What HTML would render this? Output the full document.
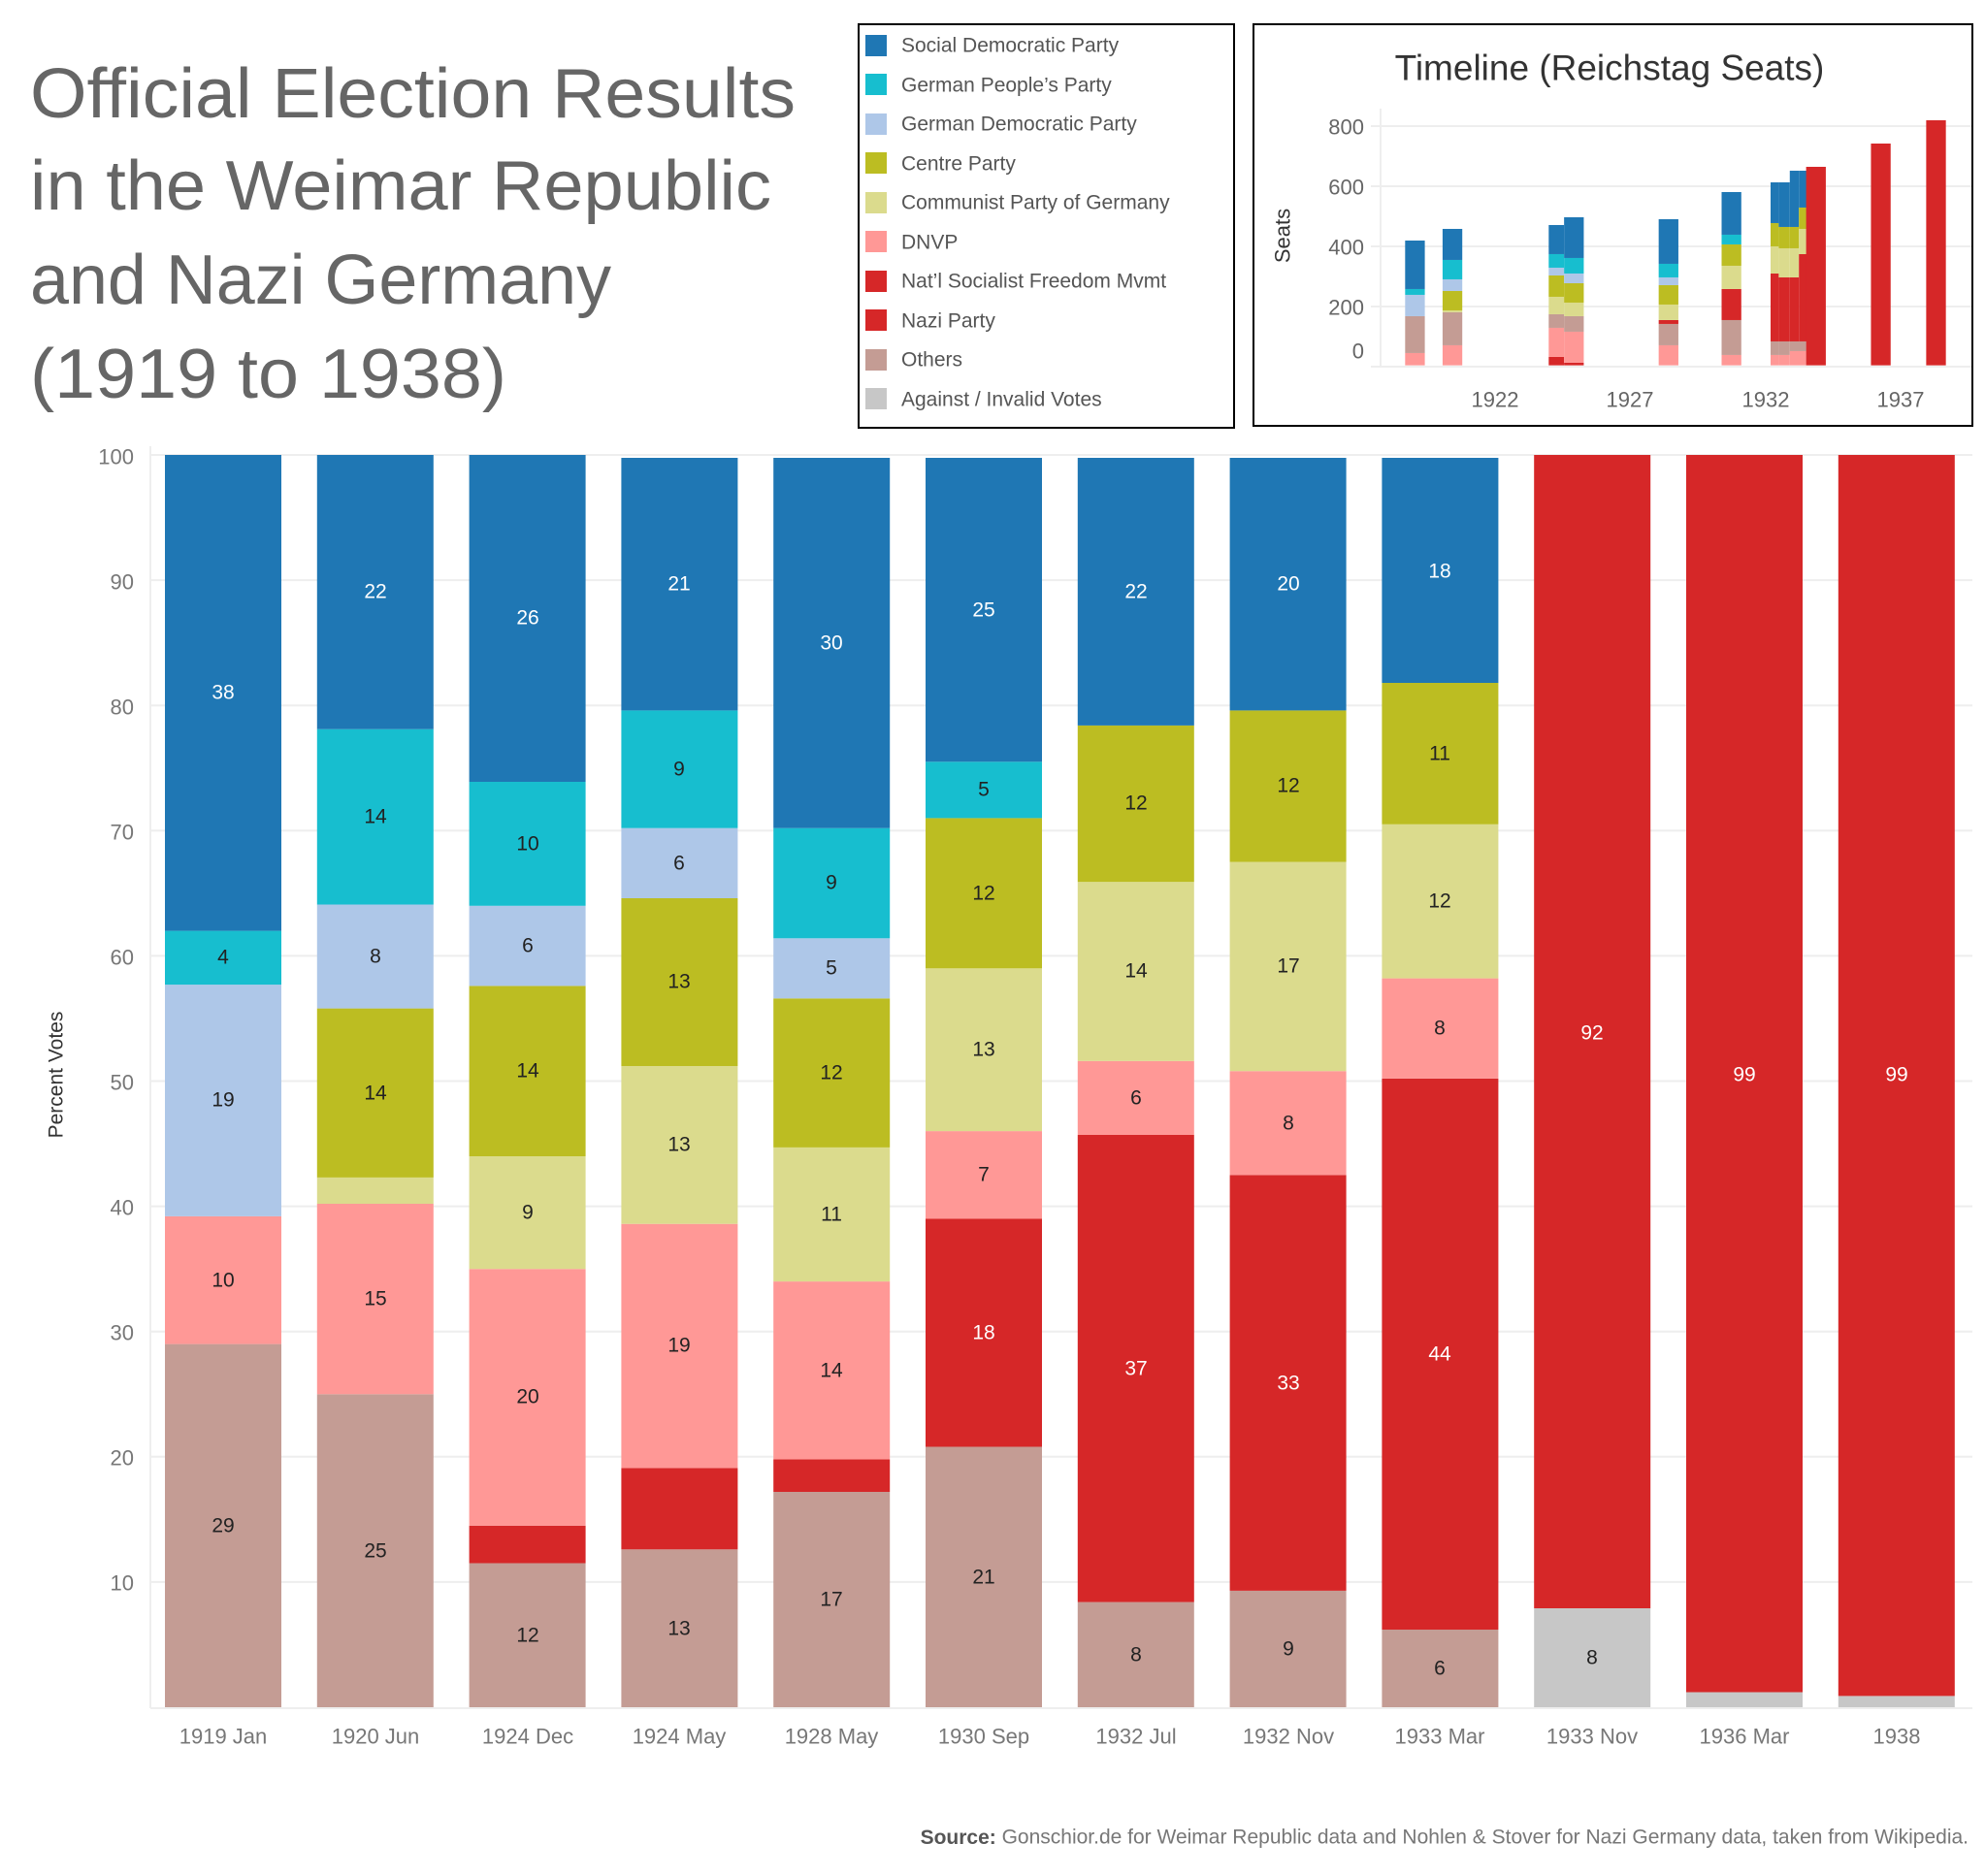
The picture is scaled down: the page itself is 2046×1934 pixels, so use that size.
<!DOCTYPE html>
<html><head><meta charset="utf-8"><style>
html,body{margin:0;padding:0;background:#fff}
svg{display:block}
text{font-family:"Liberation Sans",sans-serif}
</style></head><body>
<svg width="2046" height="1934" viewBox="0 0 2046 1934" xmlns="http://www.w3.org/2000/svg">
<rect width="2046" height="1934" fill="#fff"/>
<!-- Title -->
<g fill="#666" font-size="72">
<text x="31" y="121" textLength="789" lengthAdjust="spacingAndGlyphs">Official Election Results</text>
<text x="31" y="216" textLength="764" lengthAdjust="spacingAndGlyphs">in the Weimar Republic</text>
<text x="31" y="313" textLength="599" lengthAdjust="spacingAndGlyphs">and Nazi Germany</text>
<text x="31" y="410" textLength="491" lengthAdjust="spacingAndGlyphs">(1919 to 1938)</text>
</g>
<!-- Legend -->
<rect x="885" y="25" width="387" height="416" fill="none" stroke="#000" stroke-width="2"/>
<g font-size="21" fill="#555" dominant-baseline="central">
<rect x="892" y="36" width="22" height="22" fill="#1f77b4"/><text x="929" y="47">Social Democratic Party</text>
<rect x="892" y="76" width="22" height="22" fill="#17becf"/><text x="929" y="88">German People’s Party</text>
<rect x="892" y="117" width="22" height="22" fill="#aec7e8"/><text x="929" y="128">German Democratic Party</text>
<rect x="892" y="157" width="22" height="22" fill="#bcbd22"/><text x="929" y="169">Centre Party</text>
<rect x="892" y="198" width="22" height="22" fill="#dbdb8d"/><text x="929" y="209">Communist Party of Germany</text>
<rect x="892" y="238" width="22" height="22" fill="#ff9896"/><text x="929" y="250">DNVP</text>
<rect x="892" y="279" width="22" height="22" fill="#d62728"/><text x="929" y="290">Nat’l Socialist Freedom Mvmt</text>
<rect x="892" y="319" width="22" height="22" fill="#d62728"/><text x="929" y="331">Nazi Party</text>
<rect x="892" y="360" width="22" height="22" fill="#c49c94"/><text x="929" y="371">Others</text>
<rect x="892" y="400" width="22" height="22" fill="#c7c7c7"/><text x="929" y="412">Against / Invalid Votes</text>
</g>
<!-- Timeline inset -->
<rect x="1292" y="25" width="741" height="414" fill="none" stroke="#000" stroke-width="2"/>
<text x="1659" y="70" font-size="37" fill="#333" text-anchor="middle" dominant-baseline="central">Timeline (Reichstag Seats)</text>
<g stroke="#eee" stroke-width="2">
<line x1="1413" y1="130" x2="2032" y2="130"/><line x1="1413" y1="192" x2="2032" y2="192"/>
<line x1="1413" y1="254" x2="2032" y2="254"/><line x1="1413" y1="316" x2="2032" y2="316"/>
<line x1="1413" y1="378" x2="2032" y2="378"/><line x1="1423" y1="112" x2="1423" y2="378"/>
</g>
<g font-size="22" fill="#666" text-anchor="end" dominant-baseline="central">
<text x="1406" y="131">800</text><text x="1406" y="193">600</text><text x="1406" y="255">400</text><text x="1406" y="317">200</text><text x="1406" y="362">0</text>
</g>
<text transform="translate(1322,243) rotate(-90)" font-size="22" fill="#333" text-anchor="middle" dominant-baseline="central">Seats</text>
<g font-size="22" fill="#666" text-anchor="middle" dominant-baseline="central">
<text x="1541" y="412">1922</text><text x="1680" y="412">1927</text><text x="1820" y="412">1932</text><text x="1959" y="412">1937</text>
</g>
<g transform="translate(1280,0) scale(0.495,0.3333)">
<!-- 1919 -->
<rect x="340" y="1092" width="41" height="38" fill="#ff9896"/><rect x="340" y="978" width="41" height="114" fill="#c49c94"/>
<rect x="340" y="912" width="41" height="66" fill="#aec7e8"/><rect x="340" y="894" width="41" height="18" fill="#17becf"/>
<rect x="340" y="744" width="41" height="150" fill="#1f77b4"/>
<!-- 1920 -->
<rect x="418" y="1068" width="41" height="62" fill="#ff9896"/><rect x="418" y="966" width="41" height="102" fill="#c49c94"/>
<rect x="418" y="960" width="41" height="6" fill="#dbdb8d"/><rect x="418" y="900" width="41" height="60" fill="#bcbd22"/>
<rect x="418" y="864" width="41" height="36" fill="#aec7e8"/><rect x="418" y="804" width="41" height="60" fill="#17becf"/>
<rect x="418" y="708" width="41" height="96" fill="#1f77b4"/>
<!-- 1924 May -->
<rect x="639" y="1104" width="32" height="26" fill="#d62728"/><rect x="639" y="1014" width="32" height="90" fill="#ff9896"/>
<rect x="639" y="972" width="32" height="42" fill="#c49c94"/><rect x="639" y="918" width="32" height="54" fill="#dbdb8d"/>
<rect x="639" y="852" width="32" height="66" fill="#bcbd22"/><rect x="639" y="828" width="32" height="24" fill="#aec7e8"/>
<rect x="639" y="786" width="32" height="42" fill="#17becf"/><rect x="639" y="696" width="32" height="90" fill="#1f77b4"/>
<!-- 1924 Dec -->
<rect x="671" y="1122" width="41" height="8" fill="#d62728"/><rect x="671" y="1026" width="41" height="96" fill="#ff9896"/>
<rect x="671" y="978" width="41" height="48" fill="#c49c94"/><rect x="671" y="936" width="41" height="42" fill="#dbdb8d"/>
<rect x="671" y="876" width="41" height="60" fill="#bcbd22"/><rect x="671" y="846" width="41" height="30" fill="#aec7e8"/>
<rect x="671" y="798" width="41" height="48" fill="#17becf"/><rect x="671" y="672" width="41" height="126" fill="#1f77b4"/>
<!-- 1928 -->
<rect x="868" y="1068" width="41" height="62" fill="#ff9896"/><rect x="868" y="1002" width="41" height="66" fill="#c49c94"/>
<rect x="868" y="990" width="41" height="12" fill="#d62728"/><rect x="868" y="942" width="41" height="48" fill="#dbdb8d"/>
<rect x="868" y="882" width="41" height="60" fill="#bcbd22"/><rect x="868" y="858" width="41" height="24" fill="#aec7e8"/>
<rect x="868" y="816" width="41" height="42" fill="#17becf"/><rect x="868" y="678" width="41" height="138" fill="#1f77b4"/>
<!-- 1930 -->
<rect x="999" y="1098" width="41" height="32" fill="#ff9896"/><rect x="999" y="990" width="41" height="108" fill="#c49c94"/>
<rect x="999" y="894" width="41" height="96" fill="#d62728"/><rect x="999" y="822" width="41" height="72" fill="#dbdb8d"/>
<rect x="999" y="756" width="41" height="66" fill="#bcbd22"/><rect x="999" y="726" width="41" height="30" fill="#17becf"/>
<rect x="999" y="594" width="41" height="132" fill="#1f77b4"/>
<!-- 1932 Jul -->
<rect x="1101" y="1098" width="17" height="32" fill="#ff9896"/><rect x="1101" y="1056" width="17" height="42" fill="#c49c94"/>
<rect x="1101" y="846" width="17" height="210" fill="#d62728"/><rect x="1101" y="762" width="17" height="84" fill="#dbdb8d"/>
<rect x="1101" y="690" width="17" height="72" fill="#bcbd22"/><rect x="1101" y="564" width="17" height="126" fill="#1f77b4"/>
<!-- 1932 Nov -->
<rect x="1118" y="1098" width="23" height="32" fill="#ff9896"/><rect x="1118" y="1056" width="23" height="42" fill="#c49c94"/>
<rect x="1118" y="858" width="23" height="198" fill="#d62728"/><rect x="1118" y="768" width="23" height="90" fill="#dbdb8d"/>
<rect x="1118" y="702" width="23" height="66" fill="#bcbd22"/><rect x="1118" y="564" width="23" height="138" fill="#1f77b4"/>
<!-- 1933 Mar -->
<rect x="1141" y="1086" width="34" height="44" fill="#ff9896"/><rect x="1141" y="1056" width="34" height="30" fill="#c49c94"/>
<rect x="1141" y="858" width="19" height="198" fill="#d62728"/><rect x="1141" y="768" width="19" height="90" fill="#dbdb8d"/>
<rect x="1141" y="702" width="19" height="66" fill="#bcbd22"/><rect x="1141" y="528" width="19" height="174" fill="#1f77b4"/>
<rect x="1160" y="786" width="18" height="270" fill="#d62728"/><rect x="1160" y="708" width="18" height="78" fill="#dbdb8d"/>
<rect x="1160" y="642" width="18" height="66" fill="#bcbd22"/><rect x="1160" y="528" width="18" height="114" fill="#1f77b4"/>
<!-- later -->
<rect x="1175" y="516" width="41" height="614" fill="#d62728"/>
<rect x="1310" y="444" width="41" height="686" fill="#d62728"/>
<rect x="1425" y="372" width="41" height="758" fill="#d62728"/>
</g>

<!-- Main chart grid -->
<g stroke="#eee" stroke-width="2">
<line x1="155" y1="469" x2="2033" y2="469"/><line x1="155" y1="598.1" x2="2033" y2="598.1"/>
<line x1="155" y1="727.2" x2="2033" y2="727.2"/><line x1="155" y1="856.3" x2="2033" y2="856.3"/>
<line x1="155" y1="985.4" x2="2033" y2="985.4"/><line x1="155" y1="1114.5" x2="2033" y2="1114.5"/>
<line x1="155" y1="1243.6" x2="2033" y2="1243.6"/><line x1="155" y1="1372.7" x2="2033" y2="1372.7"/>
<line x1="155" y1="1501.8" x2="2033" y2="1501.8"/><line x1="155" y1="1630.9" x2="2033" y2="1630.9"/>
<line x1="155" y1="1761" x2="2033" y2="1761"/><line x1="155" y1="460" x2="155" y2="1761"/>
</g>
<g font-size="22" fill="#777" text-anchor="end" dominant-baseline="central">
<text x="138" y="471">100</text><text x="138" y="600">90</text><text x="138" y="729">80</text><text x="138" y="858">70</text>
<text x="138" y="987">60</text><text x="138" y="1116">50</text><text x="138" y="1245">40</text><text x="138" y="1374">30</text>
<text x="138" y="1503">20</text><text x="138" y="1632">10</text>
</g>
<text transform="translate(58,1108) rotate(-90)" font-size="21" fill="#333" text-anchor="middle" dominant-baseline="central">Percent Votes</text>

<g>
<!-- 1919 -->
<rect x="170" y="1385.6" width="120" height="374.4" fill="#c49c94"/><rect x="170" y="1253.9" width="120" height="131.7" fill="#ff9896"/>
<rect x="170" y="1015.1" width="120" height="238.8" fill="#aec7e8"/><rect x="170" y="959.6" width="120" height="55.5" fill="#17becf"/>
<rect x="170" y="469" width="120" height="490.6" fill="#1f77b4"/>
<!-- 1920 -->
<rect x="326.8" y="1437.3" width="120" height="322.7" fill="#c49c94"/><rect x="326.8" y="1241" width="120" height="196.3" fill="#ff9896"/>
<rect x="326.8" y="1213.9" width="120" height="27.1" fill="#dbdb8d"/><rect x="326.8" y="1039.6" width="120" height="174.3" fill="#bcbd22"/>
<rect x="326.8" y="932.5" width="120" height="107.1" fill="#aec7e8"/><rect x="326.8" y="751.7" width="120" height="180.8" fill="#17becf"/>
<rect x="326.8" y="469" width="120" height="282.7" fill="#1f77b4"/>
<!-- 1924 Dec -->
<rect x="483.6" y="1611.5" width="120" height="148.5" fill="#c49c94"/><rect x="483.6" y="1572.8" width="120" height="38.7" fill="#d62728"/>
<rect x="483.6" y="1308.2" width="120" height="264.6" fill="#ff9896"/><rect x="483.6" y="1192" width="120" height="116.2" fill="#dbdb8d"/>
<rect x="483.6" y="1016.4" width="120" height="175.6" fill="#bcbd22"/><rect x="483.6" y="933.8" width="120" height="82.6" fill="#aec7e8"/>
<rect x="483.6" y="806" width="120" height="127.8" fill="#17becf"/><rect x="483.6" y="469" width="120" height="337" fill="#1f77b4"/>
<!-- 1924 May -->
<rect x="640.4" y="1597.3" width="120" height="162.7" fill="#c49c94"/><rect x="640.4" y="1513.4" width="120" height="83.9" fill="#d62728"/>
<rect x="640.4" y="1261.7" width="120" height="251.7" fill="#ff9896"/><rect x="640.4" y="1099" width="120" height="162.7" fill="#dbdb8d"/>
<rect x="640.4" y="926" width="120" height="173" fill="#bcbd22"/><rect x="640.4" y="853.7" width="120" height="72.3" fill="#aec7e8"/>
<rect x="640.4" y="732.4" width="120" height="121.3" fill="#17becf"/><rect x="640.4" y="472" width="120" height="260.4" fill="#1f77b4"/>
<!-- 1928 -->
<rect x="797.2" y="1538" width="120" height="222" fill="#c49c94"/><rect x="797.2" y="1504.4" width="120" height="33.6" fill="#d62728"/>
<rect x="797.2" y="1321.1" width="120" height="183.3" fill="#ff9896"/><rect x="797.2" y="1182.9" width="120" height="138.2" fill="#dbdb8d"/>
<rect x="797.2" y="1029.3" width="120" height="153.6" fill="#bcbd22"/><rect x="797.2" y="967.3" width="120" height="62" fill="#aec7e8"/>
<rect x="797.2" y="853.7" width="120" height="113.6" fill="#17becf"/><rect x="797.2" y="472" width="120" height="381.7" fill="#1f77b4"/>
<!-- 1930 -->
<rect x="954" y="1491.5" width="120" height="268.5" fill="#c49c94"/><rect x="954" y="1256.5" width="120" height="235" fill="#d62728"/>
<rect x="954" y="1166.1" width="120" height="90.4" fill="#ff9896"/><rect x="954" y="998.3" width="120" height="167.8" fill="#dbdb8d"/>
<rect x="954" y="843.4" width="120" height="154.9" fill="#bcbd22"/><rect x="954" y="785.3" width="120" height="58.1" fill="#17becf"/>
<rect x="954" y="472" width="120" height="313.3" fill="#1f77b4"/>
<!-- 1932 Jul -->
<rect x="1110.8" y="1651.6" width="120" height="108.4" fill="#c49c94"/><rect x="1110.8" y="1170" width="120" height="481.6" fill="#d62728"/>
<rect x="1110.8" y="1093.8" width="120" height="76.2" fill="#ff9896"/><rect x="1110.8" y="909.2" width="120" height="184.6" fill="#dbdb8d"/>
<rect x="1110.8" y="747.9" width="120" height="161.3" fill="#bcbd22"/><rect x="1110.8" y="472" width="120" height="275.9" fill="#1f77b4"/>
<!-- 1932 Nov -->
<rect x="1267.6" y="1639.9" width="120" height="120.1" fill="#c49c94"/><rect x="1267.6" y="1211.3" width="120" height="428.6" fill="#d62728"/>
<rect x="1267.6" y="1104.2" width="120" height="107.1" fill="#ff9896"/><rect x="1267.6" y="888.6" width="120" height="215.6" fill="#dbdb8d"/>
<rect x="1267.6" y="732.4" width="120" height="156.2" fill="#bcbd22"/><rect x="1267.6" y="472" width="120" height="260.4" fill="#1f77b4"/>
<!-- 1933 Mar -->
<rect x="1424.4" y="1680" width="120" height="80" fill="#c49c94"/><rect x="1424.4" y="1111.9" width="120" height="568.1" fill="#d62728"/>
<rect x="1424.4" y="1008.6" width="120" height="103.3" fill="#ff9896"/><rect x="1424.4" y="849.8" width="120" height="158.8" fill="#dbdb8d"/>
<rect x="1424.4" y="704" width="120" height="145.8" fill="#bcbd22"/><rect x="1424.4" y="472" width="120" height="232" fill="#1f77b4"/>
<!-- 1933 Nov -->
<rect x="1581.2" y="1658" width="120" height="102" fill="#c7c7c7"/><rect x="1581.2" y="469" width="120" height="1189" fill="#d62728"/>
<!-- 1936 -->
<rect x="1738" y="1744.5" width="120" height="15.5" fill="#c7c7c7"/><rect x="1738" y="469" width="120" height="1275.5" fill="#d62728"/>
<!-- 1938 -->
<rect x="1894.8" y="1748.4" width="120" height="11.6" fill="#c7c7c7"/><rect x="1894.8" y="469" width="120" height="1279.4" fill="#d62728"/>
</g>

<!-- Labels -->
<g font-size="21" text-anchor="middle" dominant-baseline="central" fill="#222">
<text x="230" y="1573">29</text><text x="230" y="1320">10</text><text x="230" y="1134">19</text><text x="230" y="987">4</text>
<text x="387" y="1599">25</text><text x="387" y="1339">15</text><text x="387" y="1127">14</text><text x="387" y="986">8</text><text x="387" y="842">14</text>
<text x="544" y="1686">12</text><text x="544" y="1440">20</text><text x="544" y="1250">9</text><text x="544" y="1104">14</text><text x="544" y="975">6</text><text x="544" y="870">10</text>
<text x="700" y="1679">13</text><text x="700" y="1387">19</text><text x="700" y="1180">13</text><text x="700" y="1012">13</text><text x="700" y="890">6</text><text x="700" y="793">9</text>
<text x="857" y="1649">17</text><text x="857" y="1413">14</text><text x="857" y="1252">11</text><text x="857" y="1106">12</text><text x="857" y="998">5</text><text x="857" y="910">9</text>
<text x="1014" y="1626">21</text><text x="1014" y="1211">7</text><text x="1014" y="1082">13</text><text x="1014" y="921">12</text><text x="1014" y="814">5</text>
<text x="1171" y="1706">8</text><text x="1171" y="1132">6</text><text x="1171" y="1001">14</text><text x="1171" y="828">12</text>
<text x="1328" y="1700">9</text><text x="1328" y="1158">8</text><text x="1328" y="996">17</text><text x="1328" y="810">12</text>
<text x="1484" y="1720">6</text><text x="1484" y="1060">8</text><text x="1484" y="929">12</text><text x="1484" y="777">11</text>
<text x="1641" y="1709">8</text>
</g>
<g font-size="21" text-anchor="middle" dominant-baseline="central" fill="#fff">
<text x="230" y="714">38</text><text x="387" y="610">22</text><text x="544" y="637">26</text><text x="700" y="602">21</text>
<text x="857" y="663">30</text><text x="1014" y="629">25</text><text x="1014" y="1374">18</text>
<text x="1171" y="610">22</text><text x="1171" y="1411">37</text><text x="1328" y="602">20</text><text x="1328" y="1426">33</text>
<text x="1484" y="589">18</text><text x="1484" y="1396">44</text><text x="1641" y="1065">92</text>
<text x="1798" y="1108">99</text><text x="1955" y="1108">99</text>
</g>

<!-- x labels -->
<g font-size="22" fill="#777" text-anchor="middle" dominant-baseline="central">
<text x="230" y="1790">1919 Jan</text><text x="387" y="1790">1920 Jun</text><text x="544" y="1790">1924 Dec</text>
<text x="700" y="1790">1924 May</text><text x="857" y="1790">1928 May</text><text x="1014" y="1790">1930 Sep</text>
<text x="1171" y="1790">1932 Jul</text><text x="1328" y="1790">1932 Nov</text><text x="1484" y="1790">1933 Mar</text>
<text x="1641" y="1790">1933 Nov</text><text x="1798" y="1790">1936 Mar</text><text x="1955" y="1790">1938</text>
</g>
<text x="2029" y="1894" font-size="21" fill="#777" text-anchor="end" dominant-baseline="central"><tspan font-weight="bold" fill="#555">Source:</tspan> Gonschior.de for Weimar Republic data and Nohlen &amp; Stover for Nazi Germany data, taken from Wikipedia.</text>
</svg>
</body></html>
